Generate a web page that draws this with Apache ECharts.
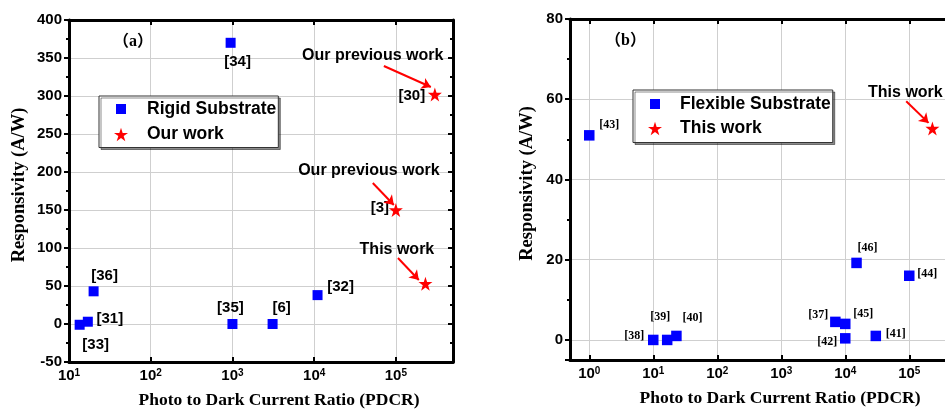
<!DOCTYPE html>
<html><head><meta charset="utf-8">
<script src="https://cdn.jsdelivr.net/npm/echarts@6/dist/echarts.min.js"></script>
<style>html,body{margin:0;padding:0;background:#fff;overflow:hidden}#c{width:945px;height:409px}</style>
</head><body><div id="c"></div>
<script>
// ---------- Panel (a): rigid substrate ----------
const rigidRefs = ['[34]', '[36]', '[31]', '[33]', '[35]', '[6]', '[32]'];
const rigidPDCR = [950, 20, 17, 13.5, 1000, 3100, 11000];
const rigidResp = [370, 43, 3, -1, 0, 0, 38];
const ourRefs = ['[30]', '[3]', ''];
const ourPDCR = [300000, 100000, 230000];
const ourResp = [302, 150, 53];
// ---------- Panel (b): flexible substrate ----------
const flexRefs = ['[43]', '[38]', '[39]', '[40]', '[37]', '[45]', '[42]', '[41]', '[46]', '[44]'];
const flexPDCR = [1, 10, 16.5, 23, 7000, 10000, 10000, 30000, 15000, 100000];
const flexResp = [51, 0, 0, 1, 4.5, 4, 0.4, 1, 19.2, 16];
const thisRefs = [''];
const thisPDCR = [230000];
const thisResp = [52.7];
// ---------- tick labels ----------
const xTickExpA = [1, 2, 3, 4, 5];
const xTickExpB = [0, 1, 2, 3, 4, 5];
// ---------- annotations (data space) ----------
const annotTextA = ['Our previous work', 'Our previous work', 'This work'];
const annotAtA = [[52000, 352.6], [46700, 201.3], [103000, 97.4]];
const arrowFromA = [[71300, 339.5], [52200, 185.5], [106000, 86.8]];
const arrowToA = [[268000, 311.8], [94400, 156.6], [191000, 57.9]];
const annotTextB = ['This work'];
const annotAtB = [[87000, 61.6]];
const arrowFromB = [[89600, 59.5]];
const arrowToB = [[200000, 54.1]];

// label placement (pixel offsets from point centre)
const rigidLabelOff = [[7, 19], [11, -15], [22, -3], [16, 20], [-2, -16], [9, -16], [23, -8]];
const ourLabelOff = [[-23, 1], [-16, -2], [0, 0]];
const flexLabelOff = [[20, -10], [-19, -4], [-7, -23], [16, -18], [-17, -7], [18, -10], [-18, 4], [20, -2], [11, -15], [18, -2]];

const SANS = '"Liberation Sans", Arial, sans-serif';
const SERIF = '"Liberation Serif", "Times New Roman", serif';
const STAR = 'path://M50,0L61.2,34.5L97.6,34.5L68.2,55.9L79.4,90.5L50,69.1L20.6,90.5L31.8,55.9L2.4,34.5L38.8,34.5Z';
const SQ_ICON = 'path://M0,0M2,2L12,2L12,12L2,12ZM14,14';

function supFmt(list) {
  return function (v) {
    const l = Math.log10(v), e = Math.round(l);
    if (Math.abs(l - e) > 1e-6 || list.indexOf(e) < 0) return '';
    return '{b|10}{s|' + e + '}';
  };
}
const rich = {
  b: { fontFamily: SANS, fontWeight: 'bold', fontSize: 15, color: '#000' },
  s: { fontFamily: SANS, fontWeight: 'bold', fontSize: 10, color: '#000', verticalAlign: 'top' }
};
const axisLine = { show: true, onZero: false, lineStyle: { color: '#000', width: 3 } };
const gridLine = { show: true, lineStyle: { color: '#cfcfcf', width: 1 } };

function xAxes(grid, min, max, list) {
  return [{
    gridIndex: grid, type: 'log', logBase: 10, min: min, max: max, position: 'bottom',
    axisLine: axisLine,
    axisTick: { show: true, inside: true, length: 5, lineStyle: { color: '#000', width: 2 } },
    axisLabel: { formatter: supFmt(list), rich: rich, margin: 6, showMinLabel: true, showMaxLabel: false, hideOverlap: false },
    splitLine: gridLine, minorTick: { show: false },
    name: 'Photo to Dark Current Ratio (PDCR)', nameLocation: 'middle', nameGap: 29,
    nameTextStyle: { fontFamily: SERIF, fontWeight: 'bold', fontSize: 17.5, color: '#000', padding: [0, 0, 0, 36] }
  }, {
    gridIndex: grid, type: 'log', logBase: 10, min: min, max: max, position: 'top',
    axisLine: axisLine,
    axisTick: { show: true, inside: true, length: 5, lineStyle: { color: '#000', width: 2 } },
    axisLabel: { show: false }, splitLine: { show: false }
  }];
}
function yAxes(grid, min, max, interval, minorSplit, nameGap) {
  const base = { gridIndex: grid, type: 'value', min: min, max: max };
  if (interval) base.interval = interval;
  return [Object.assign({}, base, {
    position: 'left',
    axisLine: axisLine,
    axisTick: { show: true, inside: false, length: 5, lineStyle: { color: '#000', width: 2 } },
    minorTick: { show: true, splitNumber: minorSplit, length: 3, lineStyle: { color: '#000', width: 2 } },
    axisLabel: { fontFamily: SANS, fontWeight: 'bold', fontSize: 15, color: '#000', margin: 7, showMinLabel: interval ? true : false },
    splitLine: gridLine,
    name: 'Responsivity (A/W)', nameLocation: 'middle', nameGap: nameGap, nameRotate: 90,
    nameTextStyle: { fontFamily: SERIF, fontWeight: 'bold', fontSize: 18.5, color: '#000', padding: [0, 0, 0, 12] }
  }), Object.assign({}, base, {
    position: 'right',
    axisLine: axisLine,
    axisTick: { show: true, inside: true, length: 5, lineStyle: { color: '#000', width: 2 } },
    minorTick: { show: true, splitNumber: minorSplit, length: 3, lineStyle: { color: '#000', width: 2 } },
    axisLabel: { show: false }, splitLine: { show: false }
  })];
}

function pts(xs, ys, refs, offs) {
  return xs.map((x, i) => ({ name: refs[i], value: [x, ys[i]], label: { offset: offs[i] } }));
}
function labelStyle(font, size) {
  return { show: true, position: 'inside', formatter: p => p.name, color: '#000', fontFamily: font,
           fontWeight: 'bold', fontSize: size, textBorderWidth: 0, opacity: 1 };
}
function annotations(texts, at, from, to) {
  return {
    markLine: {
      silent: true, animation: false, symbol: ['none', 'arrow'], symbolSize: 9,
      lineStyle: { color: '#ff0000', width: 2, type: 'solid', opacity: 1 }, label: { show: false },
      data: from.map((f, i) => [{ coord: f }, { coord: to[i] }])
    },
    markPoint: {
      silent: true, animation: false, symbol: 'circle', symbolSize: 1,
      itemStyle: { color: 'rgba(0,0,0,0)' },
      label: { show: true, position: 'inside', formatter: p => p.name, color: '#000',
               fontFamily: SANS, fontWeight: 'bold', fontSize: 16 },
      data: texts.map((t, i) => ({ name: t, coord: at[i] }))
    }
  };
}
function legendBox(names, icons, left, top, pad, gap, textPad) {
  return {
    data: names.map((n, i) => ({ name: n, icon: icons[i] })),
    orient: 'vertical', left: left, top: top, itemWidth: 14, itemHeight: 14, itemGap: gap,
    padding: pad, borderColor: '#333', borderWidth: 1, backgroundColor: '#fff',
    shadowColor: 'rgba(0,0,0,0.45)', shadowBlur: 0, shadowOffsetX: 2, shadowOffsetY: 2,
    selectedMode: false,
    textStyle: { fontFamily: SANS, fontWeight: 'bold', fontSize: 17.5, color: '#000', padding: [0, 0, 0, textPad] }
  };
}

const option = {
  animation: false,
  backgroundColor: '#fff',
  title: [
    { text: '（a）', left: 113, top: 34, padding: 0, textStyle: { fontFamily: SERIF + ', "Noto Sans CJK SC"', fontWeight: 'bold', fontSize: 16, color: '#000' } },
    { text: '（b）', left: 605, top: 33, padding: 0, textStyle: { fontFamily: SERIF + ', "Noto Sans CJK SC"', fontWeight: 'bold', fontSize: 16, color: '#000' } }
  ],
  legend: [
    legendBox(['Rigid Substrate', 'Our work'], [SQ_ICON, STAR], 99, 96, [4, 2, 4, 15], 7.5, 14),
    legendBox(['Flexible Substrate', 'This work'], [SQ_ICON, STAR], 633, 90, [5, 2, 5, 15], 6.5, 13)
  ],
  grid: [
    { left: 69, top: 20, width: 384, height: 342, outerBoundsMode: 'none', containLabel: false },
    { left: 570, top: 19, width: 384, height: 341, outerBoundsMode: 'none', containLabel: false }
  ],
  xAxis: xAxes(0, 10, 500000, xTickExpA).concat(xAxes(1, 0.5, 500000, xTickExpB)),
  yAxis: yAxes(0, -50, 400, 50, 2, 40).concat(yAxes(1, -5, 80, 0, 2, 33)),
  series: [
    {
      name: 'Rigid Substrate', type: 'scatter', xAxisIndex: 0, yAxisIndex: 0,
      symbol: 'rect', symbolSize: 10, itemStyle: { color: '#0000ff', opacity: 1 },
      label: labelStyle(SANS, 15),
      data: pts(rigidPDCR, rigidResp, rigidRefs, rigidLabelOff)
    },
    Object.assign({
      name: 'Our work', type: 'scatter', xAxisIndex: 0, yAxisIndex: 0,
      symbol: STAR, symbolSize: 14, itemStyle: { color: '#ff0000', opacity: 1 },
      label: labelStyle(SANS, 15),
      data: pts(ourPDCR, ourResp, ourRefs, ourLabelOff)
    }, annotations(annotTextA, annotAtA, arrowFromA, arrowToA)),
    {
      name: 'Flexible Substrate', type: 'scatter', xAxisIndex: 2, yAxisIndex: 2,
      symbol: 'rect', symbolSize: 10.5, itemStyle: { color: '#0000ff', opacity: 1 },
      label: labelStyle(SERIF, 12),
      data: pts(flexPDCR, flexResp, flexRefs, flexLabelOff)
    },
    Object.assign({
      name: 'This work', type: 'scatter', xAxisIndex: 2, yAxisIndex: 2,
      symbol: STAR, symbolSize: 14, itemStyle: { color: '#ff0000', opacity: 1 },
      label: { show: false },
      data: pts(thisPDCR, thisResp, thisRefs, [[0, 0]])
    }, annotations(annotTextB, annotAtB, arrowFromB, arrowToB))
  ]
};
const chart = echarts.init(document.getElementById('c'), null, { renderer: 'canvas' });
chart.setOption(option);
</script>
</body></html>
